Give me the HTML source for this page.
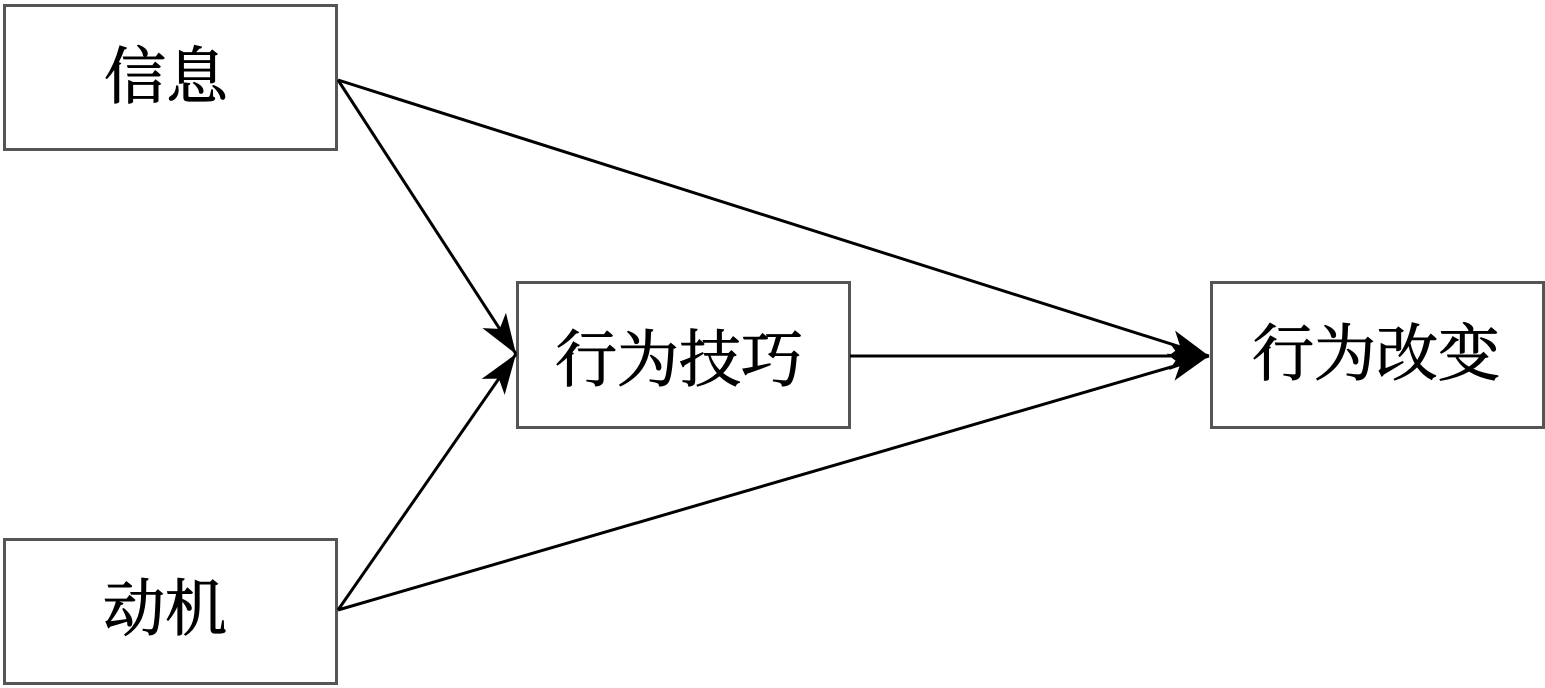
<!DOCTYPE html>
<html><head><meta charset="utf-8"><style>
html,body{margin:0;padding:0;background:#fff;width:1545px;height:688px;overflow:hidden}
text{font-family:"Liberation Serif","Noto Serif CJK SC",serif;font-size:62px;fill:#000;stroke:#000;stroke-width:1}
</style></head><body>
<svg width="1545" height="688" viewBox="0 0 1545 688" xmlns="http://www.w3.org/2000/svg">
<defs>
<marker id="a" markerUnits="userSpaceOnUse" markerWidth="44" markerHeight="30" refX="40" refY="14" orient="auto">
<path d="M0,0 L40,14 L0,28 L10,14 Z" fill="#000"/>
</marker>
</defs>
<g fill="#fff" stroke="#555" stroke-width="3">
<rect x="4.5" y="5.5" width="332" height="144"/>
<rect x="4.5" y="539.5" width="332" height="144"/>
<rect x="517.5" y="282.5" width="332" height="145"/>
<rect x="1211.5" y="282.5" width="332" height="145"/>
</g>
<g stroke="#000" stroke-width="3" fill="none">
<line x1="338" y1="80" x2="516" y2="354" marker-end="url(#a)"/>
<line x1="338" y1="610" x2="516" y2="354" marker-end="url(#a)"/>
<line x1="338" y1="80" x2="1209" y2="356" marker-end="url(#a)"/>
<line x1="338" y1="610" x2="1209" y2="356" marker-end="url(#a)"/>
<line x1="850" y1="356" x2="1209" y2="356" marker-end="url(#a)"/>
</g>
<text x="104" y="98">信息</text>
<text x="103" y="630">动机</text>
<text x="555" y="381">行为技巧</text>
<text x="1252" y="375">行为改变</text>
</svg>
</body></html>
